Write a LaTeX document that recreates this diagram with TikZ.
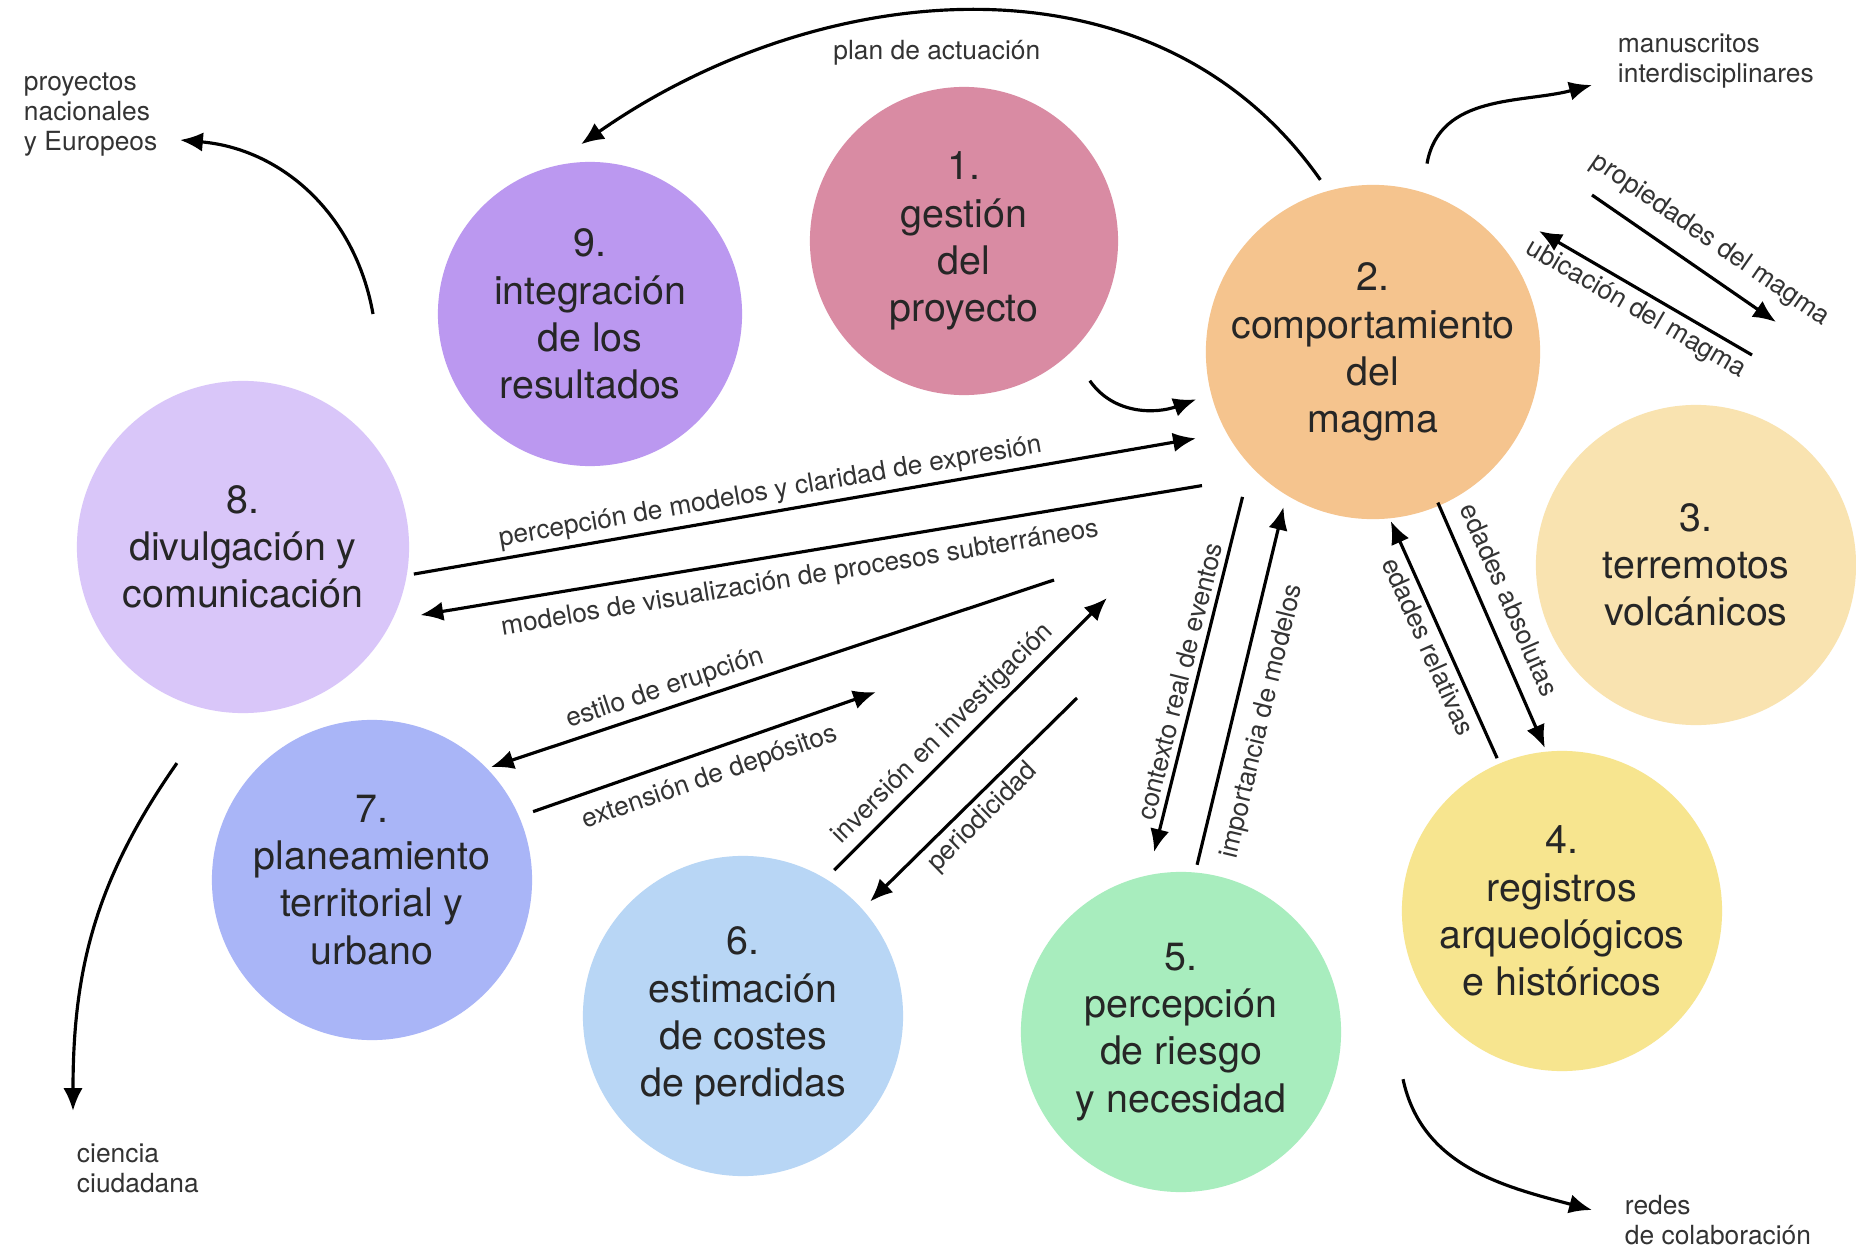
\documentclass[tikz,border=0pt]{standalone}
\usepackage{fontspec}
\setmainfont{TeX Gyre Heros}
\usetikzlibrary{arrows.meta,calc}

\definecolor{rosa}{HTML}{D98BA3}
\definecolor{melocoton}{HTML}{F5C48E}
\definecolor{crema}{HTML}{F9E3B0}
\definecolor{amarillo}{HTML}{F7E58F}
\definecolor{menta}{HTML}{A8EDBE}
\definecolor{celeste}{HTML}{B8D6F5}
\definecolor{pervinca}{HTML}{A9B5F7}
\definecolor{lavanda}{HTML}{D9C6F9}
\definecolor{violeta}{HTML}{BB98F0}

\begin{document}
\begin{tikzpicture}[x=0.01cm,y=0.01cm,
  stage/.style={circle,minimum size=3.2cm,inner sep=0pt,outer sep=0pt,align=center,
    font=\fontsize{11.2}{13.4}\selectfont,text=black!85},
  lbl/.style={font=\fontsize{7.5}{8.5}\selectfont,text=black!80,inner sep=1.5pt},
  link/.style={line width=0.9pt,-{Latex[length=6.5pt,width=5.5pt]}}]
\fill[white] (0,0) rectangle (1856,1250);
\useasboundingbox (0,0) rectangle (1856,1250);

% etapas
\node[stage,fill=rosa,minimum size=3.08cm] (c1) at (964,1009) {1.\\gestión\\del\\proyecto};
\node[stage,fill=melocoton] (c2) at (1373,898) {2.\\comportamiento\\del\\magma};
\node[stage,fill=crema] (c3) at (1696,685) {3.\\terremotos\\volcánicos};
\node[stage,fill=amarillo] (c4) at (1562,339) {4.\\registros\\arqueológicos\\e históricos};
\node[stage,fill=menta] (c5) at (1181,218) {5.\\percepción\\de riesgo\\y necesidad};
\node[stage,fill=celeste] (c6) at (743,234) {6.\\estimación\\de costes\\de perdidas};
\node[stage,fill=pervinca] (c7) at (372,370) {7.\\planeamiento\\territorial y\\urbano};
\node[stage,fill=lavanda,minimum size=3.32cm] (c8) at (243,703) {8.\\divulgación y\\comunicación};
\node[stage,fill=violeta,minimum size=3.04cm] (c9) at (590,936) {9.\\integración\\de los\\resultados};

% salidas
\node[lbl,align=left,anchor=north west] (proy) at (18,1183) {proyectos\\nacionales\\y Europeos};
\node[lbl,align=left,anchor=north west] (manus) at (1612,1222) {manuscritos\\interdisciplinares};
\node[lbl,align=left,anchor=north west] (cien) at (71,112) {ciencia\\ciudadana};
\node[lbl,align=left,anchor=north west] (redes) at (1619,61) {redes\\de colaboración};

\coordinate (tipP) at (180,1110);
\coordinate (tipM) at (1592,1165);
\coordinate (tipC) at (73,139);
\coordinate (tipR) at (1592,40);
\coordinate (pm1) at (1592,1055);
\coordinate (pm2) at (1776,928);
\coordinate (um1) at (1752,895);
\coordinate (um2) at (1539,1019);
\coordinate (er1) at (1054,670);
\coordinate (de2) at (876,558);
\coordinate (in2) at (1107,652);
\coordinate (pe1) at (1077,552);

% flechas
\draw[link] ($(c2)+(107:180)$) to[out=125,in=35]
  node[lbl,pos=0.55,below=6pt] {plan de actuación} ($(c9)+(93:170)$);
\draw[link] ($(c1)+(-48:188)$) to[out=-55,in=-160] ($(c2)+(195:183)$);
\draw[link] ($(c2)+(74:196)$) to[out=80,in=195] (tipM);
\draw[link] (pm1) -- node[lbl,sloped,above=3pt,pos=0.55] {propiedades del magma} (pm2);
\draw[link] (um1) -- node[lbl,sloped,below,pos=0.5] {ubicación del magma} (um2);
\draw[link] ($(c8)+(-9:173)$) -- node[lbl,sloped,above,pos=0.46]
  {percepción de modelos y claridad de expresión} ($(c2)+(206:197)$);
\draw[link] ($(c2)+(218:217)$) -- node[lbl,sloped,below=2pt,pos=0.52]
  {modelos de visualización de procesos subterráneos} ($(c8)+(-21:190)$);
\draw[link] (er1) -- node[lbl,sloped,above,pos=0.68] {estilo de erupción} ($(c7)+(43.5:164)$);
\draw[link] ($(c7)+(23:175)$) -- node[lbl,sloped,below=2pt,pos=0.49] {extensión de depósitos} (de2);
\draw[link] ($(c6)+(58:172)$) -- node[lbl,sloped,above,pos=0.45] {inversión en investigación} (in2);
\draw[link] (pe1) -- node[lbl,sloped,below,pos=0.52] {periodicidad} ($(c6)+(42:171)$);
\draw[link] ($(c2)+(228:195)$) -- node[lbl,sloped,above,pos=0.53] {contexto real de eventos} ($(c5)+(98.5:182)$);
\draw[link] ($(c5)+(84.5:168)$) -- node[lbl,sloped,below=3pt,pos=0.42] {importancia de modelos} ($(c2)+(240:179)$);
\draw[link] ($(c4)+(113:166)$) -- node[lbl,sloped,below,pos=0.5] {edades relativas} ($(c2)+(-84:170)$);
\draw[link] ($(c2)+(-66.7:164)$) -- node[lbl,sloped,above=3pt,pos=0.44] {edades absolutas} ($(c4)+(96:164)$);
\draw[link] ($(c9)+(180:217)$) to[out=100,in=-5] (tipP);
\draw[link] ($(c8)+(253:226)$) to[out=235,in=90] (tipC);
\draw[link] ($(c5)+(-12:227)$) to[out=-78,in=165] (tipR);
\end{tikzpicture}
\end{document}
